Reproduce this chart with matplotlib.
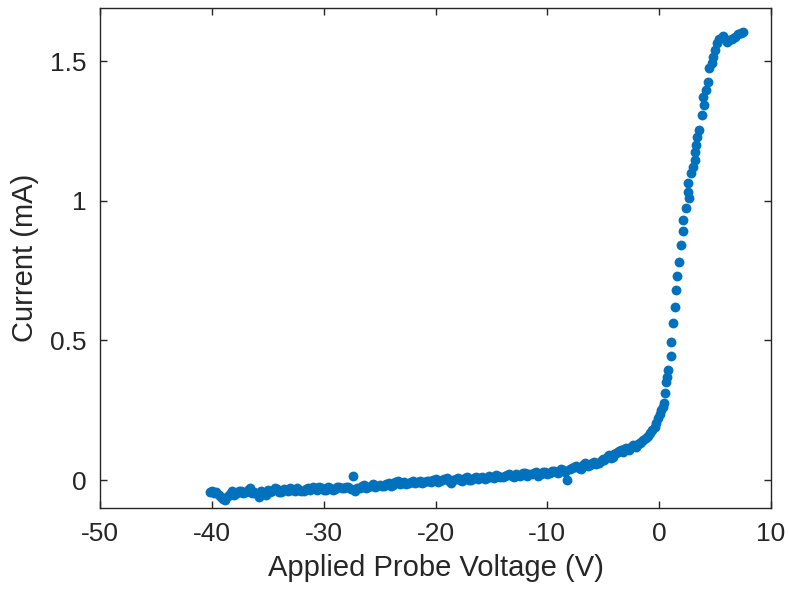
#!/usr/bin/env python

# Langmuir probe I-V sweep, drawn to look like the MATLAB scatter figure.

import matplotlib
matplotlib.use("Agg")
import matplotlib.pyplot as plt

# Applied probe voltage (V), first pass of the sweep
voltage = [
    -40.2, -39.8, -39.4, -39.0, -38.6, -38.2, -37.8, -37.4, -37.0, -36.6,
    -36.2, -35.8, -35.4, -35.0, -34.6, -34.2, -33.8, -33.4, -33.0, -32.6,
    -32.2, -31.8, -31.4, -31.0, -30.6, -30.2, -29.8, -29.4, -29.0, -28.6,
    -28.2, -27.8, -27.4, -27.2, -27.0, -26.6, -26.2, -25.8, -25.4, -25.0,
    -24.6, -24.2, -23.8, -23.4, -23.0, -22.6, -22.2, -21.8, -21.4, -21.0,
    -20.6, -20.2, -19.8, -19.4, -19.0, -18.6, -18.2, -17.8, -17.4, -17.0,
    -16.6, -16.2, -15.8, -15.4, -15.0, -14.6, -14.2, -13.8, -13.4, -13.0,
    -12.6, -12.2, -11.8, -11.4, -11.0, -10.6, -10.2, -9.8, -9.4, -9.0,
    -8.6, -8.2, -8.0, -7.6, -7.2, -6.8, -6.4, -6.0, -5.6, -5.2,
    -4.9, -4.6, -4.3, -4.0, -3.7, -3.4, -3.1, -2.8, -2.5, -2.2,
    -1.9, -1.6, -1.4, -1.2, -1.0, -0.8, -0.6, -0.4, -0.25, -0.1,
    0.05, 0.2, 0.38, 0.45, 0.55, 0.63, 0.72, 0.83, 1.04, 1.07,
    1.28, 1.40, 1.52, 1.64, 1.75, 1.93, 2.11, 2.11, 2.38, 2.71,
    2.63, 2.62, 2.83, 3.00, 3.22, 3.22, 3.31, 3.42, 3.60, 3.81,
    4.02, 3.96, 4.20, 4.41, 4.47, 4.70, 4.85, 5.00, 5.15, 5.39,
    5.74, 6.05, 6.30, 6.49, 6.79, 7.09, 7.30, 7.48,
]

# Measured probe current (mA), first pass
current = [
    -0.042, -0.048, -0.052, -0.068, -0.058, -0.040, -0.046, -0.038, -0.044, -0.030,
    -0.042, -0.060, -0.045, -0.036, -0.040, -0.033, -0.042, -0.036, -0.030, -0.038,
    -0.034, -0.040, -0.030, -0.026, -0.034, -0.030, -0.036, -0.028, -0.032, -0.026,
    -0.030, -0.024, 0.014, -0.040, -0.028, -0.022, -0.027, -0.020, -0.024, -0.016,
    -0.022, -0.012, -0.018, -0.004, -0.010, -0.014, -0.006, -0.010, -0.002, -0.008,
    -0.004, 0.000, -0.006, 0.002, 0.008, -0.010, 0.004, 0.000, 0.006, 0.002,
    0.008, 0.004, 0.010, 0.006, 0.012, 0.018, 0.010, 0.014, 0.020, 0.012,
    0.018, 0.024, 0.016, 0.022, 0.028, 0.020, 0.030, 0.024, 0.032, 0.026,
    0.036, 0.002, 0.038, 0.048, 0.044, 0.055, 0.050, 0.062, 0.058, 0.068,
    0.072, 0.085, 0.080, 0.092, 0.100, 0.106, 0.110, 0.112, 0.118, 0.122,
    0.128, 0.136, 0.145, 0.150, 0.158, 0.168, 0.178, 0.190, 0.205, 0.222,
    0.235, 0.250, 0.262, 0.275, 0.310, 0.352, 0.370, 0.394, 0.444, 0.495,
    0.561, 0.620, 0.680, 0.730, 0.780, 0.840, 0.893, 0.930, 0.973, 1.009,
    1.032, 1.062, 1.098, 1.122, 1.146, 1.175, 1.200, 1.229, 1.253, 1.307,
    1.343, 1.372, 1.396, 1.426, 1.474, 1.492, 1.516, 1.540, 1.564, 1.581,
    1.590, 1.569, 1.575, 1.581, 1.587, 1.597, 1.600, 1.605,
]

# second pass over the ion-saturation side (fills out the noisy band)
voltage_b = [
    -40.0, -39.6, -39.2, -38.8, -38.4, -38.0, -37.6, -37.2, -36.8, -36.4,
    -36.0, -35.6, -35.2, -34.8, -34.4, -34.0, -33.6, -33.2, -32.8, -32.4,
    -32.0, -31.6, -31.2, -30.8, -30.4, -30.0, -29.6, -29.2, -28.8, -28.4,
    -28.0, -27.6, -26.8, -26.4, -26.0, -25.6, -25.2, -24.8, -24.4, -24.0,
    -23.6, -23.2, -22.8, -22.4, -22.0, -21.6, -21.2, -20.8, -20.4, -20.0,
    -19.6, -19.2, -18.8, -18.4, -18.0, -17.6, -17.2, -16.8, -16.4, -16.0,
    -15.6, -15.2, -14.8, -14.4, -14.0, -13.6, -13.2, -12.8, -12.4, -12.0,
    -11.6, -11.2, -10.8, -10.4, -10.0, -9.6, -9.2, -8.8, -8.4, -7.8,
    -7.4, -7.0, -6.6, -6.2, -5.8, -5.4, -5.0, -4.45, -4.15, -3.85,
    -3.55, -3.25, -2.95, -2.65, -2.35, -2.05, -1.75,
]

current_b = [
    -0.038, -0.044, -0.060, -0.072, -0.050, -0.052, -0.040, -0.048, -0.036, -0.046,
    -0.050, -0.040, -0.052, -0.042, -0.030, -0.044, -0.032, -0.040, -0.034, -0.028,
    -0.038, -0.032, -0.036, -0.030, -0.024, -0.036, -0.026, -0.034, -0.024, -0.030,
    -0.026, -0.032, -0.030, -0.018, -0.024, -0.014, -0.022, -0.020, -0.014, -0.020,
    -0.008, -0.014, -0.006, -0.012, -0.002, -0.008, -0.012, -0.002, -0.006, 0.004,
    -0.002, 0.004, -0.004, 0.002, 0.008, -0.002, 0.010, 0.002, 0.012, 0.006,
    0.004, 0.014, 0.008, 0.016, 0.010, 0.018, 0.014, 0.022, 0.014, 0.026,
    0.020, 0.026, 0.016, 0.030, 0.022, 0.034, 0.028, 0.040, 0.030, 0.044,
    0.052, 0.040, 0.060, 0.054, 0.064, 0.062, 0.074, 0.088, 0.084, 0.096,
    0.104, 0.100, 0.114, 0.108, 0.124, 0.120, 0.132,
]

xticks = [-50, -40, -30, -20, -10, 0, 10]
yticks = [0, 0.5, 1, 1.5]

plt.rcParams['font.family'] = ['Liberation Sans', 'DejaVu Sans']
dark = '#262626'

fig = plt.figure(figsize=(7.89, 5.98), dpi=100)
ax = fig.add_axes([0.127, 0.1505, 0.85, 0.836])

ax.scatter(voltage + voltage_b, current + current_b, s=50, color='#0072BD',
           linewidths=0, zorder=3)

ax.set_xlim(-50, 10)
ax.set_ylim(-0.1, 1.69)
ax.set_xticks(xticks)
ax.set_xticklabels([str(t) for t in xticks])
ax.set_yticks(yticks)
ax.set_yticklabels(['0', '0.5', '1', '1.5'])

ax.tick_params(direction='in', length=5, width=1, colors=dark,
               labelsize=19, top=True, right=True, pad=10)
for sp in ax.spines.values():
    sp.set_color(dark)
    sp.set_linewidth(1)

ax.set_xlabel('Applied Probe Voltage (V)', fontsize=21, color=dark, labelpad=6)
ax.set_ylabel('Current (mA)', fontsize=21, color=dark, labelpad=8)

plt.savefig('out.png', dpi=100)
